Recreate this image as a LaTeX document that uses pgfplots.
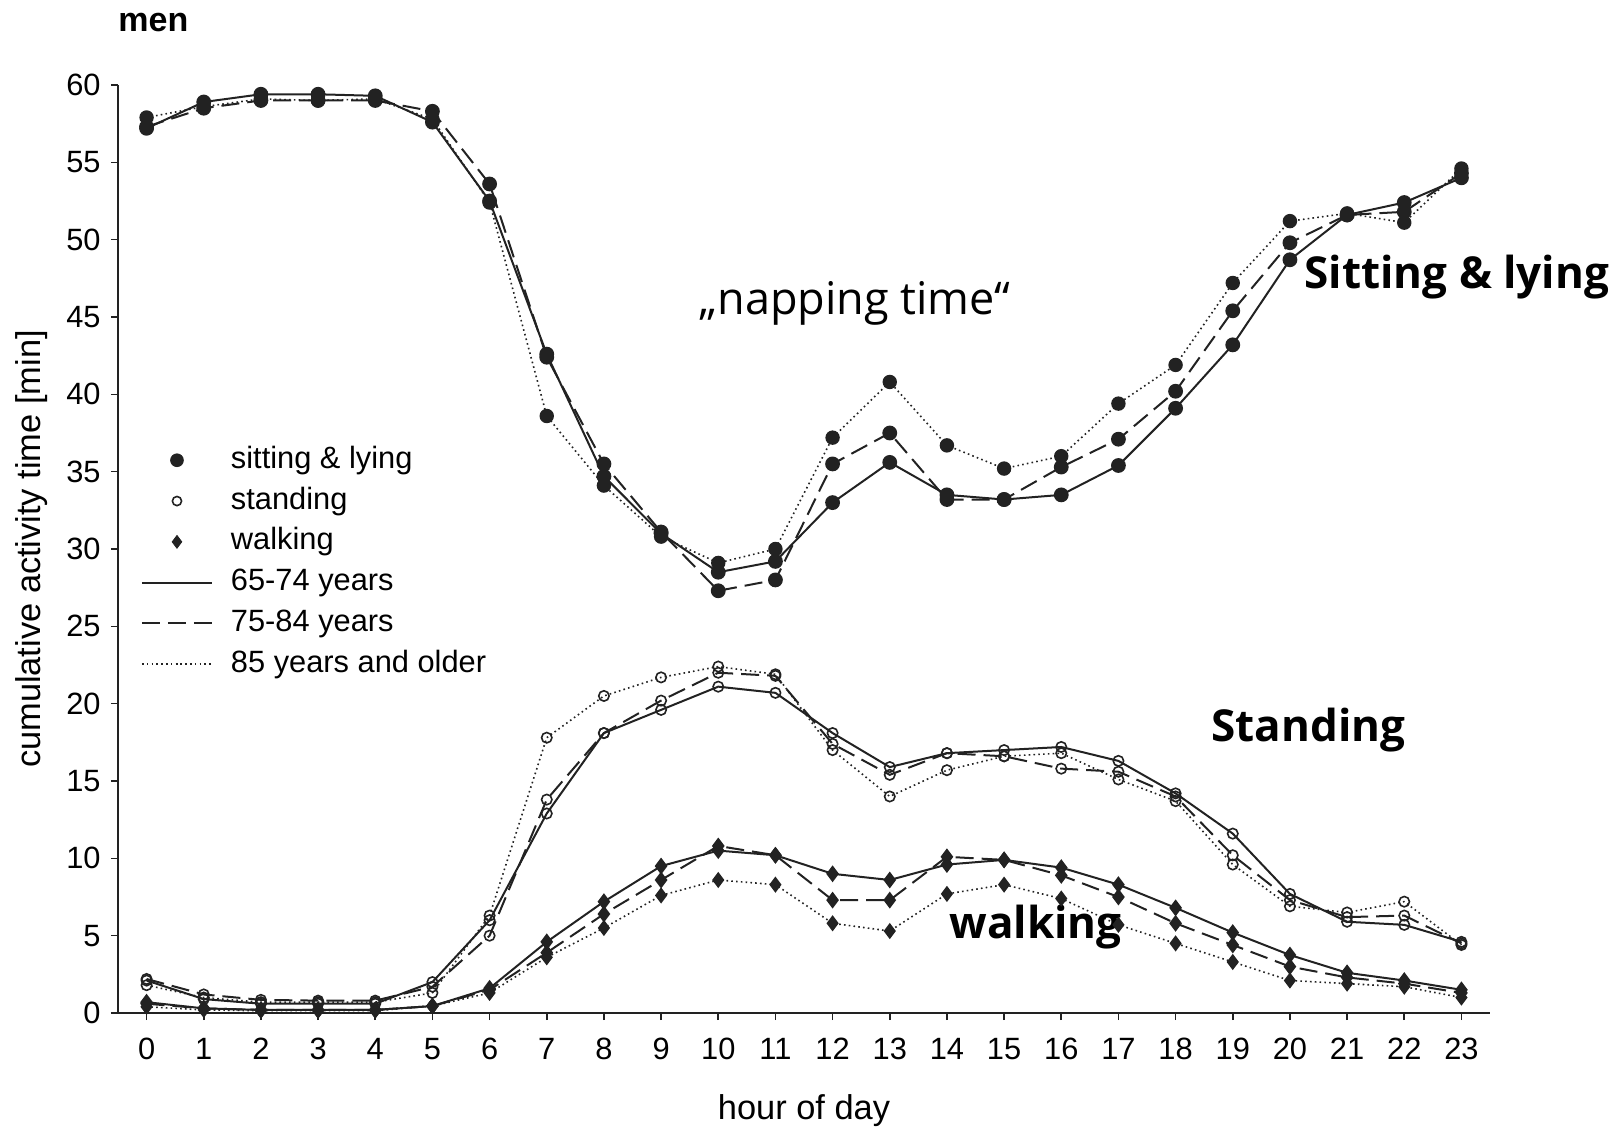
\documentclass[border=0pt]{standalone}
\usepackage{fontspec}
\setmainfont{Liberation Sans}
\newfontfamily\annot{Open Sans}
\usepackage{pgfplots}
\usepackage{pgfplotstable}
\pgfplotsset{compat=1.18}
\definecolor{ink}{HTML}{222222}

\pgfplotstableread{
x s1 s2 s3
0 57.2 57.3 57.9
1 58.9 58.5 58.6
2 59.4 59.0 59.1
3 59.4 59.0 59.0
4 59.3 59.0 59.1
5 57.6 58.3 57.8
6 52.5 53.6 52.4
7 42.6 42.4 38.6
8 34.7 35.5 34.1
9 31.0 31.1 30.8
10 28.5 27.3 29.1
11 29.2 28.0 30.0
12 33.0 35.5 37.2
13 35.6 37.5 40.8
14 33.5 33.2 36.7
15 33.2 33.2 35.2
16 33.5 35.3 36.0
17 35.4 37.1 39.4
18 39.1 40.2 41.9
19 43.2 45.4 47.2
20 48.7 49.8 51.2
21 51.6 51.6 51.7
22 52.4 51.8 51.1
23 54.0 54.3 54.6
}\sitting

\pgfplotstableread{
x s1 s2 s3
0 2.1 2.2 1.8
1 0.9 1.2 1.0
2 0.6 0.85 0.7
3 0.6 0.8 0.7
4 0.6 0.8 0.7
5 2.0 1.7 1.3
6 6.0 5.0 6.3
7 12.9 13.8 17.8
8 18.1 18.1 20.5
9 19.6 20.2 21.7
10 21.1 22.0 22.4
11 20.7 21.8 21.9
12 18.1 17.4 17.0
13 15.9 15.4 14.0
14 16.8 16.8 15.7
15 17.0 16.6 16.6
16 17.2 15.8 16.8
17 16.3 15.6 15.1
18 14.2 14.0 13.7
19 11.6 10.2 9.6
20 7.7 7.3 6.9
21 5.9 6.2 6.5
22 5.7 6.3 7.2
23 4.6 4.5 4.4
}\standing

\pgfplotstableread{
x s1 s2 s3
0 0.7 0.6 0.4
1 0.3 0.3 0.2
2 0.2 0.2 0.15
3 0.2 0.2 0.15
4 0.2 0.2 0.15
5 0.45 0.45 0.45
6 1.6 1.5 1.3
7 4.6 3.9 3.6
8 7.2 6.4 5.5
9 9.5 8.6 7.6
10 10.5 10.8 8.6
11 10.2 10.2 8.3
12 9.0 7.3 5.8
13 8.6 7.3 5.3
14 9.6 10.1 7.7
15 9.9 9.9 8.3
16 9.4 8.9 7.4
17 8.3 7.5 5.7
18 6.8 5.8 4.5
19 5.2 4.4 3.3
20 3.75 3.0 2.1
21 2.6 2.3 1.9
22 2.1 1.9 1.7
23 1.5 1.3 1.0
}\walking

\pgfplotsset{
  solidl/.style={ink, line width=1pt, solid},
  dashl/.style={ink, line width=1pt, dash pattern=on 9pt off 4pt},
  dotl/.style={ink, line width=0.8pt, dash pattern=on 0.8pt off 1.6pt},
  msit/.style={mark=*, mark size=3.2pt, mark options={solid, fill=ink, draw=ink}},
  mstand/.style={mark=o, mark size=2.6pt, mark options={solid, fill=white, draw=ink, line width=0.8pt}},
  mwalk/.style={mark=diamond*, mark size=3.4pt, mark options={solid, fill=ink, draw=ink}},
  markonly/.style={legend image code/.code={\draw[mark repeat=2,mark phase=2,##1,draw=none] plot coordinates {(0pt,0pt) (17.5pt,0pt) (35pt,0pt)};}},
}

\begin{document}
\begin{tikzpicture}
\begin{axis}[
  scale only axis, width=686pt, height=464pt,
  xmin=-0.5, xmax=23.5, ymin=0, ymax=60,
  axis lines=left, axis line style={-, ink, line width=0.8pt},
  xtick={0,...,23}, ytick={0,5,...,60},
  tick align=outside, major tick length=3.5pt,
  tick style={ink, line width=0.8pt},
  /pgf/number format/assume math mode=true,
  tick label style={font=\fontsize{15.4}{18}\selectfont, inner sep=0pt},
  xticklabel style={anchor=north, yshift=-9pt},
  yticklabel style={anchor=east, xshift=-5pt},
  xlabel={hour of day}, ylabel={cumulative activity time [min]},
  every axis x label/.style={at={([yshift=-49pt]axis description cs:0.5,0)}, anchor=center, inner sep=0pt, font=\fontsize{17.2}{20}\selectfont},
  every axis y label/.style={at={([xshift=-43pt]axis description cs:0,0.5)}, anchor=center, rotate=90, inner sep=0pt, font=\fontsize{17.2}{20}\selectfont},
  clip=false,
  legend image code/.code={\draw[mark repeat=2,mark phase=2,#1] plot coordinates {(0pt,0pt) (17.5pt,0pt) (35pt,0pt)};},
  legend style={draw=none, fill=none, at={(axis cs:-0.105,36.67)}, anchor=north west,
    inner sep=0pt, font=\fontsize{15.4}{18}\selectfont, row sep=6.4pt,
    nodes={inner sep=0pt, text height=11pt, text depth=3pt, anchor=west},
    /tikz/every odd column/.style={column sep=9pt}},
  legend cell align=left,
]
\coordinate (SW) at (rel axis cs:0,0);
\coordinate (NE) at (rel axis cs:1,1);

\addplot[solidl, msit, forget plot] table[x=x, y=s1]{\sitting};
\addplot[dashl, msit, forget plot] table[x=x, y=s2]{\sitting};
\addplot[dotl, msit, forget plot] table[x=x, y=s3]{\sitting};
\addplot[solidl, mstand, forget plot] table[x=x, y=s1]{\standing};
\addplot[dashl, mstand, forget plot] table[x=x, y=s2]{\standing};
\addplot[dotl, mstand, forget plot] table[x=x, y=s3]{\standing};
\addplot[solidl, mwalk, forget plot] table[x=x, y=s1]{\walking};
\addplot[dashl, mwalk, forget plot] table[x=x, y=s2]{\walking};
\addplot[dotl, mwalk, forget plot] table[x=x, y=s3]{\walking};

\addlegendimage{msit, markonly}
\addlegendentry{sitting \& lying}
\addlegendimage{mstand, mark size=2.3pt, markonly}
\addlegendentry{standing}
\addlegendimage{mwalk, mark size=3.2pt, markonly}
\addlegendentry{walking}
\addlegendimage{solidl, no marks}
\addlegendentry{65-74 years}
\addlegendimage{dashl, no marks}
\addlegendentry{75-84 years}
\addlegendimage{dotl, no marks}
\addlegendentry{85 years and older}

\node[anchor=base west, inner sep=0pt, font=\annot\bfseries\fontsize{22}{26}\selectfont] at (axis cs:20.25,46.87) {Sitting \& lying};
\node[anchor=base west, inner sep=0pt, font=\annot\bfseries\fontsize{22}{26}\selectfont] at (axis cs:18.62,17.54) {Standing};
\node[anchor=base west, inner sep=0pt, font=\annot\bfseries\fontsize{22}{26}\selectfont] at (axis cs:14.04,4.85) {walking};
\node[anchor=base west, inner sep=0pt, font=\annot\fontsize{22.5}{26}\selectfont] at (axis cs:9.66,45.18) {„napping time“};
\node[anchor=base west, inner sep=0pt, font=\bfseries\fontsize{17}{20}\selectfont] at ([yshift=26.5pt]rel axis cs:0,1) {men};
\end{axis}
\pgfresetboundingbox
\path[use as bounding box] ([xshift=-59pt,yshift=-56.5pt]SW) rectangle ([xshift=62pt,yshift=42.5pt]NE);
\end{tikzpicture}
\end{document}
